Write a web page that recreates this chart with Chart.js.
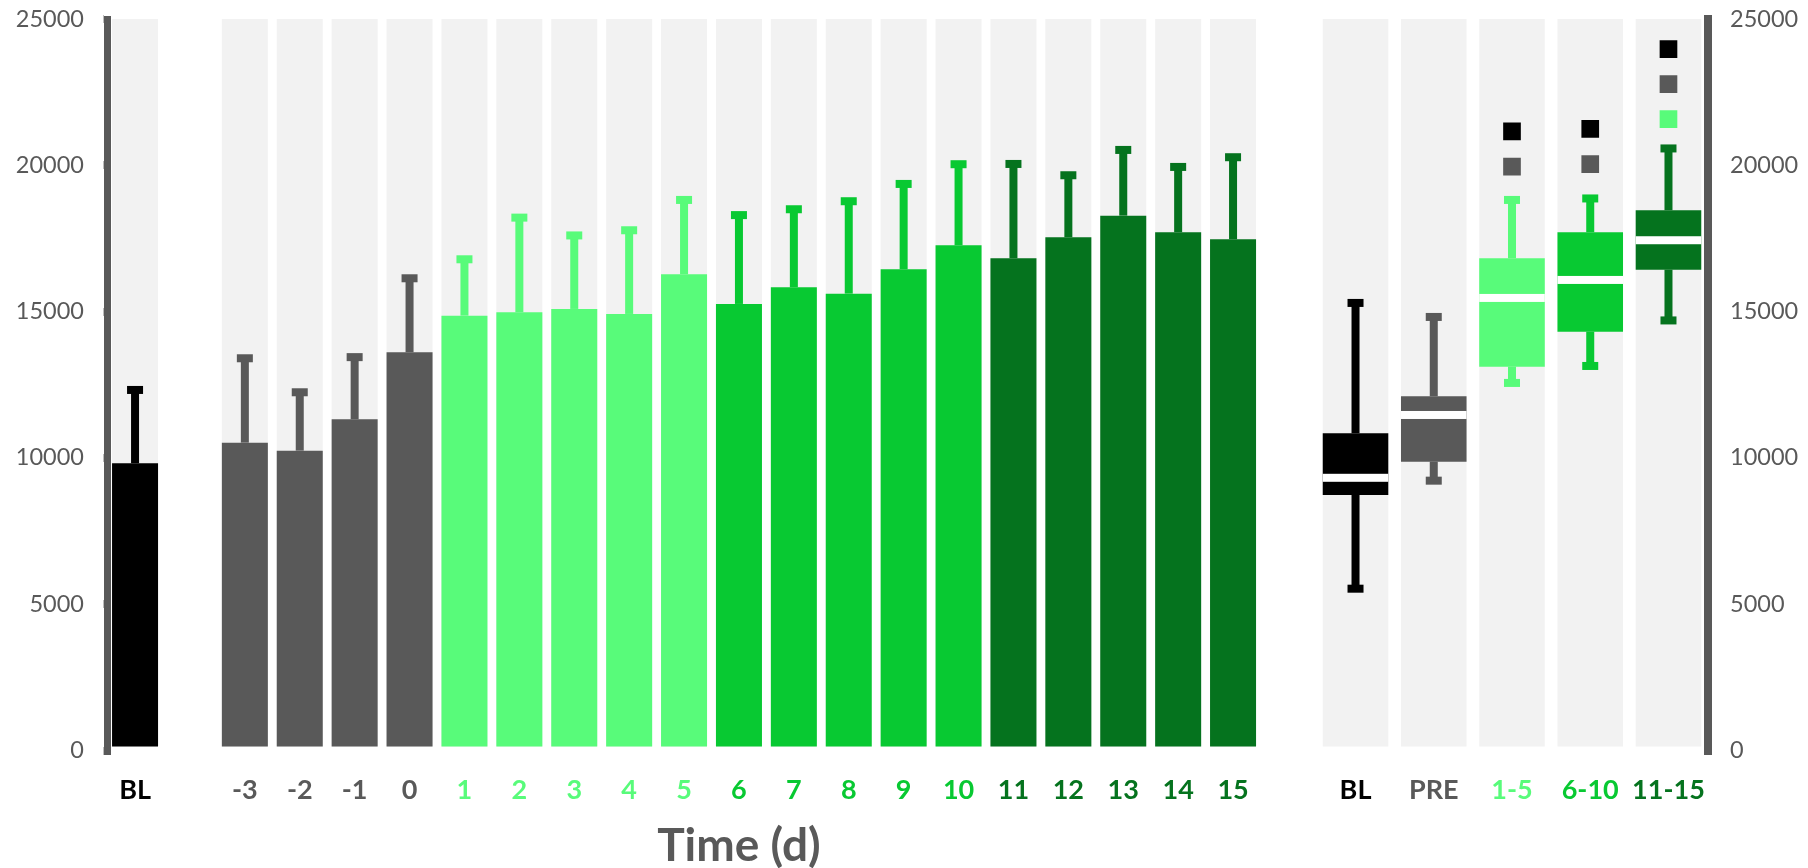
<!DOCTYPE html>
<html>
<head>
<meta charset="utf-8">
<script src="https://cdn.jsdelivr.net/npm/chart.js@4/dist/chart.umd.min.js"></script>
<style>
  html, body { margin: 0; padding: 0; background: #ffffff; }
  #wrap { position: relative; width: 1808px; height: 868px; overflow: hidden; }
  #left { position: absolute; left: 0; top: 0; }
  #right { position: absolute; left: 1290px; top: 0; }
</style>
</head>
<body>
<div id="wrap">
  <canvas id="left" width="1270" height="868"></canvas>
  <canvas id="right" width="518" height="868"></canvas>
</div>
<script>
// ---------- data (left: daily means with +SD) ----------
const dayLabels = ['BL', '', '-3', '-2', '-1', '0', '1', '2', '3', '4', '5', '6', '7', '8', '9', '10', '11', '12', '13', '14', '15'];
const dayMean  = [9817, null, 10521, 10248, 11320, 13610, 14862, 14976, 15091, 14920, 16276, 15262, 15832, 15614, 16447, 17268, 16823, 17541, 18280, 17712, 17473];
const dayUpper = [12322, null, 13405, 12243, 13444, 16139, 16788, 18212, 17603, 17780, 18816, 18298, 18498, 18772, 19363, 20037, 20046, 19660, 20525, 19944, 20276];
const dayGroup = ['BL', null, 'PRE', 'PRE', 'PRE', 'PRE', 'A', 'A', 'A', 'A', 'A', 'B', 'B', 'B', 'B', 'B', 'C', 'C', 'C', 'C', 'C'];

// ---------- data (right: box plots per phase) ----------
const phaseLabels = ['BL', 'PRE', '1-5', '6-10', '11-15'];
const phaseGroup  = ['BL', 'PRE', 'A', 'B', 'C'];
const boxMin    = [5530, 9222, 12562, 13142, 14698];
const boxQ1     = [8733, 9872, 13119, 14315, 16434];
const boxMedian = [9320, 11467, 15467, 16082, 17439];
const boxQ3     = [10842, 12106, 16823, 17712, 18464];
const boxMax    = [15296, 14817, 18816, 18867, 20576];
const sigVsBL   = [null, null, 21158, 21243, 23971];
const sigVsPRE  = [null, null, 19952, 20040, 22775];
const sigVs1to5 = [null, null, null, null, 21579];

// ---------- axis ----------
const yMin = 0, yMax = 25000, yStep = 5000;
const axisTitle = 'Time (d)';

// ---------- styles ----------
const groupColor = { BL: '#000000', PRE: '#595959', A: '#58FB7A', B: '#08C932', C: '#05731E' };
const columnBg = '#F2F2F2';
const axisGrey = '#595959';

const dayColors = dayGroup.map(g => g ? groupColor[g] : 'rgba(0,0,0,0)');
const phaseColors = phaseGroup.map(g => groupColor[g]);
const dayBg = dayMean.map(v => v == null ? null : yMax);
const phaseBg = phaseLabels.map(() => yMax);
const boxData = boxQ1.map((q, i) => [q, boxQ3[i]]);

const tickFont = { family: 'Lato', size: 23.5, weight: 'normal' };
const labelFont = { family: 'Lato', size: 27, weight: 'bold', lineHeight: 1.2 };

function yAxis(position, width, padding, borderWidth) {
  return {
    position: position,
    min: yMin, max: yMax,
    afterFit: s => { s.width = width; s.paddingTop = 0; s.paddingBottom = 0; },
    ticks: { stepSize: yStep, color: axisGrey, font: tickFont, padding: padding, callback: v => String(v) },
    grid: { drawOnChartArea: false, drawTicks: true, tickLength: 4, tickWidth: 8, tickColor: axisGrey, lineWidth: 8, color: axisGrey },
    border: { display: true, width: borderWidth, color: axisGrey }
  };
}
function xAxis(colors) {
  return {
    afterFit: s => { s.height = 117.5; s.paddingLeft = 0; s.paddingRight = 0; },
    grid: { display: false, drawTicks: false },
    border: { display: false },
    ticks: { font: labelFont, color: c => colors[c.index], padding: 24, maxRotation: 0, autoSkip: false }
  };
}

// error bars for the daily bars
const errorBarPlugin = {
  id: 'errorBars',
  afterDatasetsDraw(chart) {
    const ctx = chart.ctx, ys = chart.scales.y;
    const meta = chart.getDatasetMeta(0);
    ctx.save();
    meta.data.forEach((bar, i) => {
      if (dayMean[i] == null) return;
      const y0 = ys.getPixelForValue(dayMean[i]);
      const y1 = ys.getPixelForValue(dayUpper[i]);
      ctx.fillStyle = dayColors[i];
      ctx.fillRect(bar.x - 4, y1, 8, y0 - y1);
      ctx.fillRect(bar.x - 8, y1 - 4, 16, 8);
    });
    ctx.restore();
  }
};
const titlePlugin = {
  id: 'axisTitleCustom',
  afterDraw(chart) {
    const ctx = chart.ctx, xs = chart.scales.x;
    const cx = (xs.getPixelForValue(2) + xs.getPixelForValue(dayLabels.length - 1)) / 2;
    ctx.save();
    ctx.font = 'bold 46px Lato';
    ctx.fillStyle = axisGrey;
    ctx.textAlign = 'center';
    ctx.textBaseline = 'alphabetic';
    ctx.fillText(axisTitle, cx, 861);
    ctx.restore();
  }
};
const boxPlugin = {
  id: 'boxWhiskers',
  afterDatasetsDraw(chart) {
    const ctx = chart.ctx, ys = chart.scales.y;
    const meta = chart.getDatasetMeta(0);
    ctx.save();
    meta.data.forEach((bar, i) => {
      const x = bar.x, w = bar.width;
      const pMax = ys.getPixelForValue(boxMax[i]), pQ3 = ys.getPixelForValue(boxQ3[i]);
      const pMin = ys.getPixelForValue(boxMin[i]), pQ1 = ys.getPixelForValue(boxQ1[i]);
      const pMed = ys.getPixelForValue(boxMedian[i]);
      ctx.fillStyle = phaseColors[i];
      ctx.fillRect(x - 4, pMax, 8, pQ3 - pMax);
      ctx.fillRect(x - 8, pMax - 4, 16, 8);
      ctx.fillRect(x - 4, pQ1, 8, pMin - pQ1);
      ctx.fillRect(x - 8, pMin - 4, 16, 8);
      ctx.fillStyle = '#ffffff';
      ctx.fillRect(x - w / 2, pMed - 4, w, 8);
    });
    ctx.restore();
  }
};

new Chart(document.getElementById('left'), {
  type: 'bar',
  data: {
    labels: dayLabels,
    datasets: [
      { data: dayMean, backgroundColor: dayColors, grouped: false, categoryPercentage: 0.838, barPercentage: 1 },
      { data: dayBg, backgroundColor: columnBg, grouped: false, categoryPercentage: 0.838, barPercentage: 1 }
    ]
  },
  options: {
    responsive: false, animation: false,
    layout: { padding: { left: 0, right: 9.5, top: 19, bottom: 0 } },
    plugins: { legend: { display: false }, tooltip: { enabled: false } },
    scales: { x: xAxis(dayColors), y: yAxis('left', 107.6, 19.6, 7) }
  },
  plugins: [errorBarPlugin, titlePlugin]
});

function sigSet(values, color) {
  return { type: 'line', data: values, showLine: false, pointStyle: 'rect', pointRadius: 12.5, pointBorderWidth: 0,
           pointBackgroundColor: color, backgroundColor: color, borderColor: color };
}

new Chart(document.getElementById('right'), {
  type: 'bar',
  data: {
    labels: phaseLabels,
    datasets: [
      { data: boxData, backgroundColor: phaseColors, grouped: false, categoryPercentage: 0.838, barPercentage: 1 },
      sigSet(sigVsBL, groupColor.BL),
      sigSet(sigVsPRE, groupColor.PRE),
      sigSet(sigVs1to5, groupColor.A),
      { data: phaseBg, backgroundColor: columnBg, grouped: false, categoryPercentage: 0.838, barPercentage: 1 }
    ]
  },
  options: {
    responsive: false, animation: false,
    layout: { padding: { left: 26.4, right: 0, top: 19, bottom: 0 } },
    plugins: { legend: { display: false }, tooltip: { enabled: false } },
    scales: { x: xAxis(phaseColors), y: yAxis('right', 100.4, 18.4, 8) }
  },
  plugins: [boxPlugin]
});
</script>
</body>
</html>
